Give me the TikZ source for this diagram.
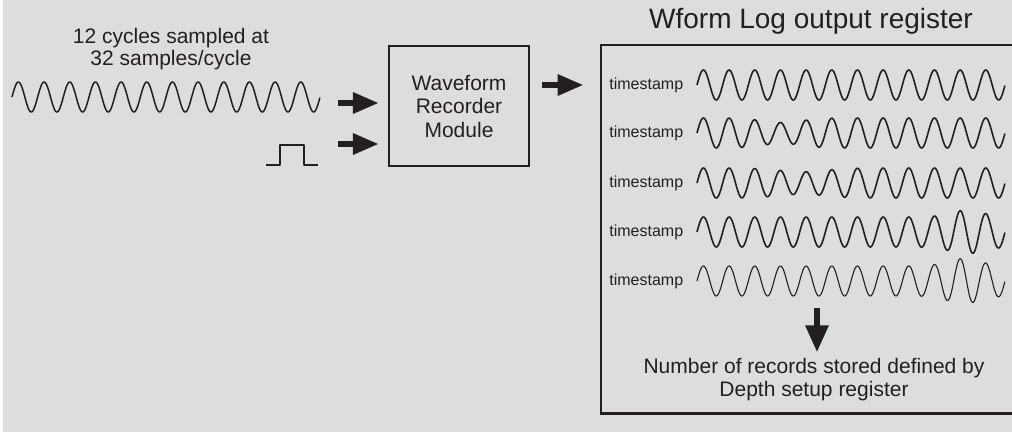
\documentclass[tikz,border=0pt]{standalone}
\usepackage{fontspec}
\setmainfont{Liberation Sans}
\usetikzlibrary{arrows.meta,positioning,calc}

\definecolor{panel}{RGB}{221,221,221}
\definecolor{ink}{RGB}{35,31,32}

% one trace of 12 cycles: start x, mid y, bump size, bump centre (cycles), bump width
\newcommand{\trace}[6][]{%
  \draw[sig,#1] plot[domain=0:12, samples=420]
    ({#2+25.67*\x}, {#3-15*(1+(#4)*exp(-(\x-(#5))*(\x-(#5))/((#6)*(#6))))*sin(360*\x)});}

\begin{document}
\begin{tikzpicture}[
  x=0.5pt, y=-0.5pt,
  font=\fontsize{10.5}{11}\selectfont,
  sig/.style={draw=ink, line width=0.8pt, line join=round},
  modbox/.style={draw=ink, line width=1.1pt, minimum width=70pt, minimum height=60pt,
                 inner sep=0pt, align=center, text=ink,
                 font=\fontsize{10.5}{11.75}\selectfont},
  regbox/.style={minimum width=240pt, minimum height=184pt, inner sep=0pt},
  regline/.style={draw=ink, line width=1.1pt},
  lbl/.style={text=ink, align=center, inner sep=0pt},
  hdr/.style={text=ink, inner sep=0pt, font=\fontsize{14}{16}\selectfont},
  stamp/.style={text=ink, anchor=west, inner sep=0pt, font=\fontsize{8}{9}\selectfont},
  fat/.style={-{Triangle[length=13pt, width=10pt]}, line width=3pt, draw=ink}
]

% ---------------- page ----------------
\useasboundingbox (0,0) rectangle (1012,435);
\clip (0,0) rectangle (1012,435);
\fill[white] (0,0) rectangle (1012,435);
\fill[panel] (3,0) rectangle (1012,432);

% ---------------- input side ----------------
\node[lbl] (cyc) at (171,49) {12 cycles sampled at\\32 samples/cycle};
\trace[line width=0.75pt]{12}{97}{0}{0}{1}
\draw[sig, line width=0.65pt] (266,165) -- (280,165) -- (280,145) -- (304,145)
  -- (304,165) -- (318,165);

\node[modbox] (rec) at (459,106) {Waveform\\Recorder\\Module};

\coordinate (in1) at (338,103);
\coordinate (in2) at (338,144);
\draw[fat, shorten >=4.5pt] (in1) -- (rec.west |- in1);
\draw[fat, shorten >=4.5pt] (in2) -- (rec.west |- in2);

% ---------------- output register ----------------
% open on the right: the source cuts the frame off at the page edge
\node[regbox] (reg) at (841,229) {};
\draw[regline] (reg.north east) -- (reg.north west) -- (reg.south west) -- (reg.south east);
\node[hdr] (title) at (811,21) {Wform Log output register};

\coordinate (out) at (542,85);
\draw[fat, shorten >=8.5pt] (out) -- (reg.west |- out);

\node[stamp] (ts1) at (609,85) {timestamp};
\node[stamp] (ts2) at (609,133) {timestamp};
\node[stamp] (ts3) at (609,183) {timestamp};
\node[stamp] (ts4) at (609,232) {timestamp};
\node[stamp] (ts5) at (609,281) {timestamp};

\trace{697}{85}{0}{0}{1}
\trace{697}{133}{-0.3}{3.3}{1.1}
\trace{697}{183}{-0.25}{4.1}{1.3}
\trace{697}{232}{0.45}{10.5}{0.9}
\trace[line width=0.55pt]{697}{281}{0.5}{10.4}{0.9}

\node[lbl, font=\fontsize{10.5}{11.5}\selectfont] (note) at (814,380)
  {Number of records stored defined by\\Depth setup register};
\coordinate (dn) at (817,308);
\draw[fat, -{Triangle[length=13.5pt, width=11pt]}, shorten >=3pt] (dn) -- (dn |- note.north);

\end{tikzpicture}
\end{document}
